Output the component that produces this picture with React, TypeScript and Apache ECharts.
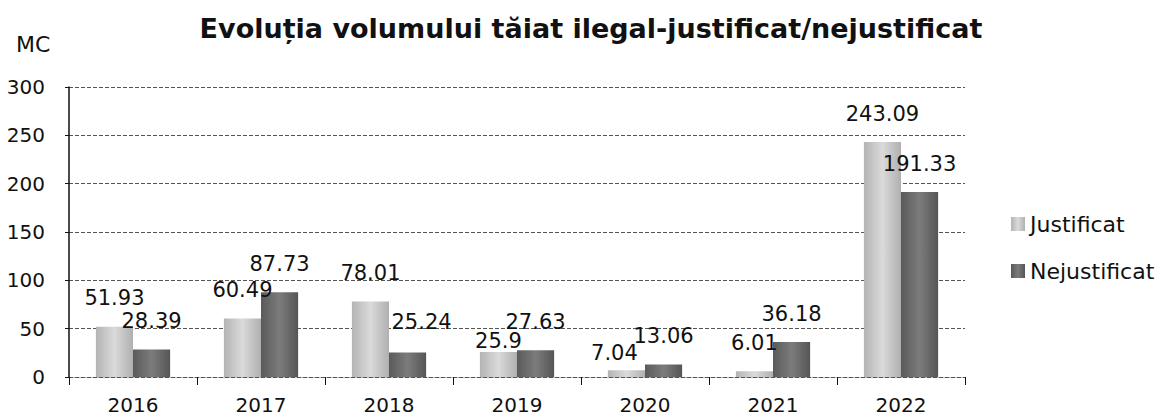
import React, { useEffect, useRef } from "react";
import * as echarts from "echarts";

const categories = ["2016", "2017", "2018", "2019", "2020", "2021", "2022"];
const justificat = [51.93, 60.49, 78.01, 25.9, 7.04, 6.01, 243.09];
const nejustificat = [28.39, 87.73, 25.24, 27.63, 13.06, 36.18, 191.33];
const seriesNames = ["Justificat", "Nejustificat"];
const titleText = "Evoluția volumului tăiat ilegal-justificat/nejustificat";
const unitLabel = "MC";

// label nudges (styling only): [seriesIndex, dataIndex, dx, dy]
const labelNudges: [number, number, number, number][] = [
  [0, 3, 0, 18],
  [0, 4, -12, 11],
  [1, 2, 14, -2],
];

const FONT = "DejaVu Sans";

export default function App() {
  const ref = useRef<HTMLDivElement>(null);
  useEffect(() => {
    if (!ref.current) return;
    const chart = echarts.init(ref.current, null, { renderer: "svg" });
    const lightGrad = new echarts.graphic.LinearGradient(0, 0, 1, 0, [
      { offset: 0, color: "#b4b4b4" },
      { offset: 0.5, color: "#dadada" },
      { offset: 1, color: "#b0b0b0" },
    ]);
    const darkGrad = new echarts.graphic.LinearGradient(0, 0, 1, 0, [
      { offset: 0, color: "#5a5a5a" },
      { offset: 0.5, color: "#7c7c7c" },
      { offset: 1, color: "#555555" },
    ]);
    const label = {
      show: true,
      position: "top" as const,
      distance: 18,
      fontFamily: FONT,
      fontSize: 21,
      color: "#111",
    };
    const build = (values: number[], si: number) =>
      values.map((v, i) => {
        const n = labelNudges.find((x) => x[0] === si && x[1] === i);
        return n ? { value: v, label: { offset: [n[2], n[3]] } } : v;
      });
    chart.setOption({
      animation: false,
      backgroundColor: "#ffffff",
      title: [
        {
          text: titleText,
          left: 586,
          top: 10,
          textAlign: "center",
          textStyle: { fontFamily: FONT, fontWeight: "bold", fontSize: 27, color: "#111" },
        },
        {
          text: unitLabel,
          left: 11,
          top: 28,
          textStyle: { fontFamily: FONT, fontWeight: "normal", fontSize: 22, color: "#111" },
        },
      ],
      legend: {
        orient: "vertical",
        left: 1006,
        top: 208,
        itemWidth: 14,
        itemHeight: 14,
        itemGap: 25,
        icon: "rect",
        textStyle: { fontFamily: FONT, fontSize: 22, color: "#111" },
        data: seriesNames,
      },
      grid: { left: 69, right: 195, top: 87, bottom: 43 },
      xAxis: {
        type: "category",
        data: categories,
        axisLine: { lineStyle: { color: "#555", type: "dashed", width: 1 } },
        axisTick: { show: true, length: 8, lineStyle: { color: "#111" } },
        axisLabel: { fontFamily: FONT, fontSize: 20, color: "#111", margin: 18 },
      },
      yAxis: {
        type: "value",
        min: 0,
        max: 300,
        interval: 50,
        axisLine: { show: true, lineStyle: { color: "#111", width: 1.5 } },
        axisTick: { show: true, length: 4, lineStyle: { color: "#111" } },
        axisLabel: { fontFamily: FONT, fontSize: 20, color: "#111", margin: 24 },
        splitLine: { lineStyle: { color: "#555", type: "dashed", width: 1 } },
      },
      series: [
        {
          name: seriesNames[0],
          type: "bar",
          data: build(justificat, 0),
          barGap: "0%",
          barCategoryGap: "42%",
          itemStyle: { color: lightGrad },
          label,
        },
        {
          name: seriesNames[1],
          type: "bar",
          data: build(nejustificat, 1),
          barGap: "0%",
          barCategoryGap: "42%",
          itemStyle: { color: darkGrad },
          label,
        },
      ],
    });
    return () => chart.dispose();
  }, []);
  return (
    <div
      ref={ref}
      style={{ position: "fixed", left: 0, top: 0, width: 1160, height: 420, background: "#fff" }}
    />
  );
}
